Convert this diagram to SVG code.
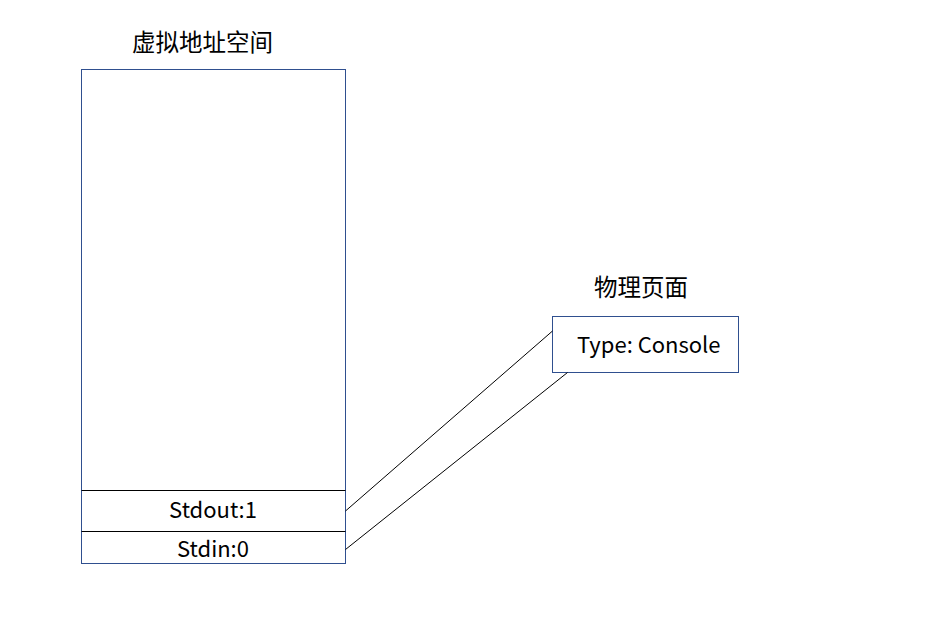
<svg xmlns="http://www.w3.org/2000/svg" width="933" height="635" viewBox="0 0 933 635">
<style>
.t{font-family:"Noto Sans CJK SC","Noto Sans",sans-serif;font-size:22px;fill:#000}
.c{font-size:23.5px}
.box{fill:#fff;stroke:#2F4F8F;stroke-width:1}
.div{stroke:#000;stroke-width:1}
.conn{stroke:#000;stroke-width:1;fill:none}
</style>
<rect width="933" height="635" fill="#fff"/>
<g id="vas">
<text class="t c" x="202.5" y="51" text-anchor="middle">虚拟地址空间</text>
<rect class="box" x="81.5" y="69.5" width="264" height="494"/>
<line class="div" x1="81.5" y1="490.5" x2="345.5" y2="490.5"/>
<line class="div" x1="81.5" y1="531.5" x2="345.5" y2="531.5"/>
<text class="t" x="213" y="518" text-anchor="middle">Stdout:1</text>
<text class="t" x="213" y="557" text-anchor="middle">Stdin:0</text>
</g>
<g id="page">
<text class="t c" x="641" y="296" text-anchor="middle">物理页面</text>
<rect class="box" x="552.5" y="316.5" width="186" height="56"/>
<text class="t" x="577" y="353">Type: Console</text>
</g>
<g id="connectors">
<line class="conn" x1="345.5" y1="511" x2="552.5" y2="331"/>
<line class="conn" x1="345.5" y1="549.5" x2="567.5" y2="372.5"/>
</g>
</svg>
